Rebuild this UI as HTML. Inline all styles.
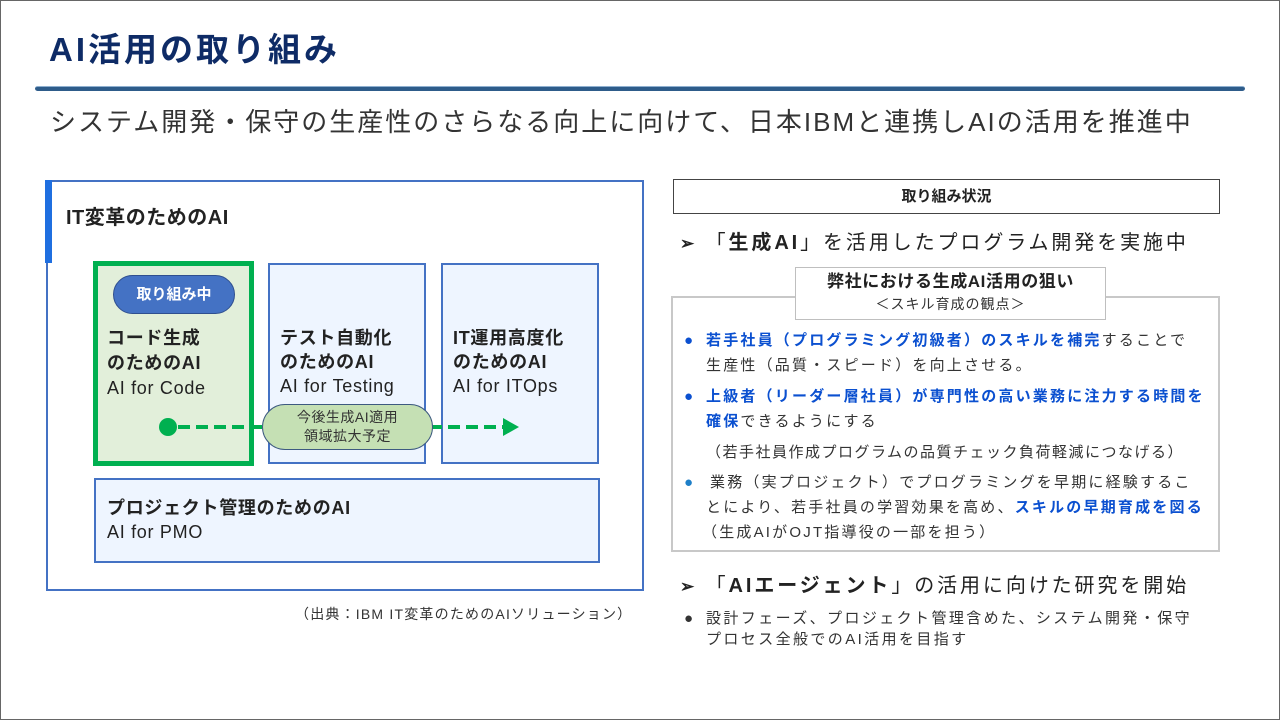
<!DOCTYPE html>
<html><head><meta charset="utf-8"><style>
*{margin:0;padding:0;box-sizing:border-box}
body{width:1280px;height:720px;position:relative;overflow:hidden;background:#fff;font-family:"Liberation Sans","Noto Sans CJK JP",sans-serif;color:#222}
.a{position:absolute;white-space:nowrap}
.b{font-weight:bold}
.blue{color:#0B50D0;font-weight:bold}
.dot{position:absolute;left:0}
</style></head><body>
<div class="a" style="left:0;top:0;width:1280px;height:720px;border:1px solid #666"></div>
<div class="a b" style="left:49px;top:27px;font-size:33px;line-height:46px;color:#0E2B66;letter-spacing:3px">AI活用の取り組み</div>
<div class="a" style="left:35px;top:86px;width:1210px;height:5px;background:#2E5C8A;border-radius:3px;border-top:1px solid #8FB0D0"></div>
<div class="a" style="left:50px;top:104px;font-size:26px;line-height:36px;color:#333;letter-spacing:2px">システム開発・保守の生産性のさらなる向上に向けて、日本IBMと連携しAIの活用を推進中</div>

<div class="a" style="left:46px;top:180px;width:598px;height:411px;border:2px solid #4472C4"></div>
<div class="a" style="left:45px;top:180px;width:7px;height:83px;background:#1F6FE0"></div>
<div class="a b" style="left:66px;top:204px;font-size:20px;line-height:28px;letter-spacing:0.5px">IT変革のためのAI</div>

<div class="a" style="left:93px;top:261px;width:161px;height:205px;border:5px solid #00B050;background:#E2EFDA"></div>
<div class="a" style="left:268px;top:263px;width:158px;height:201px;border:2px solid #4472C4;background:#EEF5FF"></div>
<div class="a" style="left:441px;top:263px;width:158px;height:201px;border:2px solid #4472C4;background:#EEF5FF"></div>
<div class="a b" style="left:113px;top:275px;width:122px;height:39px;border:1px solid #2F4F8F;border-radius:20px;background:#4472C4;color:#fff;font-size:15px;line-height:37px;text-align:center">取り組み中</div>

<div class="a" style="left:107px;top:326px;font-size:18px;line-height:25px;letter-spacing:0.7px"><b>コード生成<br>のためのAI</b><br>AI for Code</div>
<div class="a" style="left:280px;top:326px;font-size:18px;line-height:24px;letter-spacing:0.7px"><b>テスト自動化<br>のためのAI</b><br>AI for Testing</div>
<div class="a" style="left:453px;top:326px;font-size:18px;line-height:24px;letter-spacing:0.7px"><b>IT運用高度化<br>のためのAI</b><br>AI for ITOps</div>

<svg class="a" style="left:0;top:0" width="1280" height="720">
<circle cx="168" cy="427" r="9" fill="#00B050"/>
<line x1="178" y1="427" x2="505" y2="427" stroke="#00B050" stroke-width="4" stroke-dasharray="12,6"/>
<polygon points="503,418 519,427 503,436" fill="#00B050"/>
</svg>
<div class="a" style="left:262px;top:404px;width:171px;height:46px;border:1px solid #3D5A80;border-radius:23px;background:#C5E0B4;font-size:14px;line-height:19px;text-align:center;padding-top:3px;color:#333;letter-spacing:0.5px">今後生成AI適用<br>領域拡大予定</div>

<div class="a" style="left:94px;top:478px;width:506px;height:85px;border:2px solid #4472C4;background:#EEF5FF"></div>
<div class="a" style="left:107px;top:496px;font-size:18px;line-height:24px;letter-spacing:0.7px"><b>プロジェクト管理のためのAI</b><br>AI for PMO</div>
<div class="a" style="left:295px;top:604px;font-size:14px;line-height:20px;color:#333;letter-spacing:1.2px">（出典：IBM IT変革のためのAIソリューション）</div>

<div class="a b" style="left:673px;top:179px;width:547px;height:35px;border:1px solid #444;font-size:15px;line-height:33px;text-align:center">取り組み状況</div>
<div class="a" style="left:680px;top:228px;font-size:20px;line-height:30px;letter-spacing:2.9px"><span style="font-size:17px;font-weight:bold">➢</span> 「<b>生成AI</b>」を活用したプログラム開発を実施中</div>

<div class="a" style="left:671px;top:296px;width:549px;height:256px;border:2px solid #C8C8C8"></div>
<div class="a" style="left:795px;top:267px;width:311px;height:53px;border:1px solid #BFBFBF;background:#fff;text-align:center">
<div class="b" style="font-size:17px;line-height:26px;margin-top:1px;letter-spacing:0.6px">弊社における生成AI活用の狙い</div>
<div style="font-size:14px;line-height:18px;color:#333;letter-spacing:1px">＜スキル育成の観点＞</div></div>
<div class="a" style="left:684px;top:328px;font-size:15px;line-height:25px;color:#333;letter-spacing:2.2px">
<div style="position:relative;padding-left:22px"><span class="dot" style="color:#0B50D0">●</span><span class="blue">若手社員（プログラミング初級者）のスキルを補完</span>することで</div>
<div style="padding-left:22px">生産性（品質・スピード）を向上させる。</div>
<div style="position:relative;padding-left:22px;margin-top:6px"><span class="dot" style="color:#0B50D0">●</span><span class="blue">上級者（リーダー層社員）が専門性の高い業務に注力する時間を</span></div>
<div style="padding-left:22px"><span class="blue">確保</span>できるようにする</div>
<div style="padding-left:22px;margin-top:6px;letter-spacing:1.5px">（若手社員作成プログラムの品質チェック負荷軽減につなげる）</div>
<div style="position:relative;padding-left:26px;margin-top:5px"><span class="dot" style="color:#1E7FC8">●</span>業務（実プロジェクト）でプログラミングを早期に経験するこ</div>
<div style="padding-left:22px">とにより、若手社員の学習効果を高め、<span class="blue">スキルの早期育成を図る</span></div>
<div style="padding-left:18px">（生成AIがOJT指導役の一部を担う）</div>
</div>

<div class="a" style="left:680px;top:571px;font-size:20px;line-height:30px;letter-spacing:2.9px"><span style="font-size:17px;font-weight:bold">➢</span> 「<b>AIエージェント</b>」の活用に向けた研究を開始</div>
<div class="a" style="left:684px;top:608px;font-size:15px;line-height:21px;color:#333;letter-spacing:2.4px"><span style="position:relative;padding-left:22px"><span class="dot">●</span>設計フェーズ、プロジェクト管理含めた、システム開発・保守</span><br><span style="padding-left:22px">プロセス全般でのAI活用を目指す</span></div>
</body></html>
